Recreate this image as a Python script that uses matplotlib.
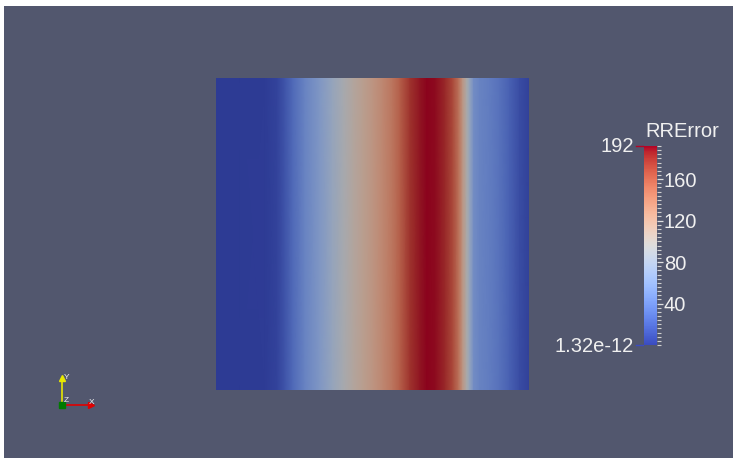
import numpy as np
import matplotlib
matplotlib.use("Agg")
import matplotlib.pyplot as plt
from matplotlib import cm
from matplotlib.colors import Normalize, ListedColormap
from matplotlib.lines import Line2D
from matplotlib.patches import Rectangle
from matplotlib.ticker import MultipleLocator

plt.rcParams['font.family'] = ['Liberation Sans', 'DejaVu Sans']

# ---- data: RRError profile across the slab (x in [0, 1], constant in y) ----
field_name = "RRError"
range_min = 1.32e-12
range_max = 192.0
x_pos = [0.000, 0.077, 0.157, 0.195, 0.220, 0.246, 0.284, 0.332, 0.371, 0.406,
         0.438, 0.470, 0.502, 0.534, 0.565, 0.588, 0.620, 0.652, 0.674, 0.700,
         0.732, 0.757, 0.776, 0.789, 0.802, 0.812, 0.824, 0.843, 0.875, 0.907,
         0.939, 0.971, 1.000]
rr_error = [0, 0, 1, 5, 15, 28, 45, 62, 78, 92,
            104, 114, 123, 133, 145, 158, 178, 188, 192, 190,
            182, 168, 146, 120, 95, 75, 52, 45, 40, 33,
            22, 10, 4]
cbar_ticks = [40, 80, 120, 160]
cbar_minor_step = 4
min_label = "1.32e-12"
max_label = "192"

# ---- styling ----
W, H = 736, 461
BG = '#52576e'
TXT = '#f0f0f0'
LIGHT = 0.77          # surface shading factor applied to the lit slab

fig = plt.figure(figsize=(W / 100, H / 100), dpi=100, facecolor='white')


def frac(x0, y0, x1, y1):
    """Pixel box (top-left origin) -> figure rect."""
    return [x0 / W, 1 - y1 / H, (x1 - x0) / W, (y1 - y0) / H]


fig.add_artist(Rectangle((4 / W, 3 / H), 729 / W, 452 / H,
                         transform=fig.transFigure, facecolor=BG,
                         edgecolor='none', zorder=0))

norm = Normalize(vmin=range_min, vmax=range_max)
base = plt.get_cmap('coolwarm')
lit_rgb = base(np.linspace(0, 1, 256))
lit_rgb[:, :3] *= LIGHT
lit_cmap = ListedColormap(lit_rgb)

# slab
ax = fig.add_axes(frac(216, 78, 529, 390))
X, Y = np.meshgrid(x_pos, [0.0, 1.0])
Z = np.vstack([rr_error, rr_error]).astype(float)
ax.pcolormesh(X, Y, Z, shading='gouraud', cmap=lit_cmap, norm=norm)
ax.set_xlim(0, 1)
ax.set_ylim(0, 1)
ax.axis('off')

# scalar bar
fs = 14.5
cax = fig.add_axes(frac(644, 146, 657, 345))
cb = fig.colorbar(cm.ScalarMappable(norm=norm, cmap=base), cax=cax)
cb.outline.set_visible(False)
cb.set_ticks(cbar_ticks, labels=[str(t) for t in cbar_ticks])
cax.yaxis.set_minor_locator(MultipleLocator(cbar_minor_step))
cax.tick_params(axis='y', which='major', direction='out', length=4.5,
                width=0.9, color='#e0e0e0', labelcolor=TXT, labelsize=fs,
                pad=0.3)
cax.tick_params(axis='y', which='minor', direction='out', length=3,
                width=0.8, color='#d0d0d0')

fig.text(645 / W, 1 - 131 / H, field_name, ha='left', va='center',
         fontsize=fs, color=TXT)
fig.text(634 / W, 1 - 146 / H, max_label, ha='right', va='center',
         fontsize=fs, color=TXT)
fig.text(634 / W, 1 - 346 / H, min_label, ha='right', va='center',
         fontsize=fs, color=TXT)
fig.add_artist(Line2D([636 / W, 643 / W], [1 - 146 / H, 1 - 146 / H],
                      transform=fig.transFigure, color=base(1.0), lw=1))
fig.add_artist(Line2D([636 / W, 643 / W], [1 - 345 / H, 1 - 345 / H],
                      transform=fig.transFigure, color=base(0.0), lw=1))

# orientation glyph
ov = fig.add_axes([0, 0, 1, 1], facecolor='none')
ov.set_xlim(0, W)
ov.set_ylim(H, 0)
ov.axis('off')
ox, oy = 62, 405
ov.plot([ox, ox], [oy, 379], color='#e8e800', lw=1.2)
ov.plot([ox], [378], marker='^', color='#e8e800', ms=4.5)
ov.plot([ox, 90], [oy, oy], color='#e00000', lw=1.2)
ov.plot([91], [oy], marker='>', color='#e00000', ms=4.5)
ov.plot([ox], [oy], marker='s', color='#007a00', ms=4)
ov.text(64, 377, "Y", color=TXT, fontsize=6, ha='left', va='center')
ov.text(89, 402, "X", color=TXT, fontsize=6, ha='left', va='center')
ov.text(64, 400, "Z", color=TXT, fontsize=6, ha='left', va='center')

fig.savefig("out.png", dpi=100, facecolor=fig.get_facecolor())
